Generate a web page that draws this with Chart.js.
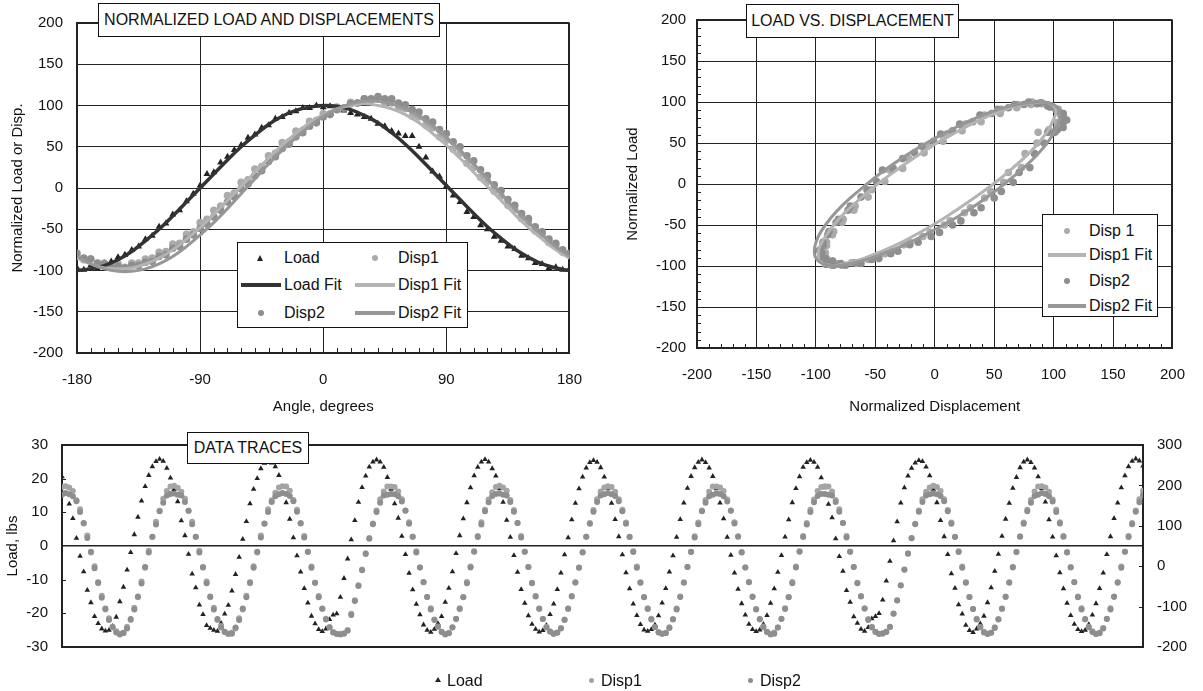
<!DOCTYPE html>
<html>
<head>
<meta charset="utf-8">
<script src="https://cdn.jsdelivr.net/npm/chart.js@4.4.1/dist/chart.umd.min.js"></script>
<style>
  body { margin: 0; background: #fff; font-family: "Liberation Sans", Arial, Helvetica, sans-serif; }
  #wrap { position: relative; width: 1203px; height: 691px; overflow: hidden; }
  canvas { position: absolute; }
  .tbox { position: absolute; background: #fff; border: 1.5px solid #111; box-sizing: border-box;
          font-size: 16px; color: #111; display: flex; align-items: center; justify-content: center; white-space: nowrap; }
  .lbox { position: absolute; background: #fff; border: 1.5px solid #111; box-sizing: border-box; }
  .lt { position: absolute; font-size: 16px; line-height: 18px; color: #111; white-space: nowrap; }
  .tri { position: absolute; width: 0; height: 0; border-left: 3.5px solid transparent; border-right: 3.5px solid transparent; border-bottom: 6px solid #222; }
  .dot { position: absolute; width: 6px; height: 6px; border-radius: 50%; }
  .ln { position: absolute; height: 4px; }
</style>
</head>
<body>
<div id="wrap">
  <canvas id="c1" width="600" height="420" style="left:0;top:0"></canvas>
  <canvas id="c2" width="603" height="420" style="left:600px;top:0"></canvas>
  <canvas id="c3" width="1203" height="271" style="left:0;top:420px"></canvas>

  <!-- titles -->
  <div class="tbox" style="left:98px;top:3px;width:342px;height:34px">NORMALIZED LOAD AND DISPLACEMENTS</div>
  <div class="tbox" style="left:746px;top:4px;width:213px;height:34px">LOAD VS. DISPLACEMENT</div>
  <div class="tbox" style="left:187px;top:432px;width:122px;height:32px">DATA TRACES</div>

  <!-- legend chart 1 -->
  <div class="lbox" style="left:237px;top:242px;width:231px;height:86px"></div>
  <div class="tri" style="left:257px;top:255px"></div>
  <div class="lt" style="left:284px;top:249px">Load</div>
  <div class="ln" style="left:241px;top:283px;width:40px;background:#333"></div>
  <div class="lt" style="left:284px;top:276px">Load Fit</div>
  <div class="dot" style="left:258px;top:310px;background:#8e8e8e"></div>
  <div class="lt" style="left:284px;top:304px">Disp2</div>
  <div class="dot" style="left:372px;top:255px;background:#ababab"></div>
  <div class="lt" style="left:398px;top:249px">Disp1</div>
  <div class="ln" style="left:355px;top:283px;width:40px;background:#b4b4b4"></div>
  <div class="lt" style="left:398px;top:276px">Disp1 Fit</div>
  <div class="ln" style="left:355px;top:311px;width:40px;background:#979797"></div>
  <div class="lt" style="left:398px;top:304px">Disp2 Fit</div>

  <!-- legend chart 2 -->
  <div class="lbox" style="left:1042px;top:214px;width:116px;height:103px"></div>
  <div class="dot" style="left:1064px;top:228px;background:#ababab"></div>
  <div class="lt" style="left:1089px;top:222px">Disp 1</div>
  <div class="ln" style="left:1048px;top:253px;width:38px;background:#b4b4b4"></div>
  <div class="lt" style="left:1089px;top:246px">Disp1 Fit</div>
  <div class="dot" style="left:1064px;top:278px;background:#8e8e8e"></div>
  <div class="lt" style="left:1089px;top:272px">Disp2</div>
  <div class="ln" style="left:1048px;top:304px;width:38px;background:#979797"></div>
  <div class="lt" style="left:1089px;top:297px">Disp2 Fit</div>

  <!-- legend chart 3 -->
  <div class="tri" style="left:434.5px;top:677px;border-left-width:3px;border-right-width:3px;border-bottom-width:5px"></div>
  <div class="lt" style="left:447px;top:672px">Load</div>
  <div class="dot" style="left:589px;top:678px;width:5px;height:5px;background:#a4a4a4"></div>
  <div class="lt" style="left:601px;top:672px">Disp1</div>
  <div class="dot" style="left:748px;top:678px;width:5px;height:5px;background:#8e8e8e"></div>
  <div class="lt" style="left:760px;top:672px">Disp2</div>
</div>

<script>
// ---- normalized data, one cycle folded (chart 1 + chart 2) ----
const angles = [-180, -175, -170, -165, -160, -155, -150, -145, -140, -135, -130, -125, -120, -115, -110, -105,
  -100, -95, -90, -85, -80, -75, -70, -65, -60, -55, -50, -45, -40, -35, -30, -25, -20, -15, -10, -5,
  0, 5, 10, 15, 20, 25, 30, 35, 40, 45, 50, 55, 60, 65, 70, 75, 80, 85, 90, 95, 100, 105, 110, 115,
  120, 125, 130, 135, 140, 145, 150, 155, 160, 165, 170, 175, 180];
const loadNorm = [-97, -99, -94, -98, -91, -89, -84, -81, -75, -71, -62, -58, -47, -43, -32, -27,
  -16, -7, 3, 17, 19, 31, 38, 46, 52, 61, 65, 73, 76, 84, 86, 91, 93, 97, 97, 100,
  98, 99, 95, 94, 91, 89, 86, 84, 78, 75, 69, 66, 63, 63, 50, 37, 20, 14, 2, -9, -17, -29, -35, -45,
  -50, -59, -64, -71, -74, -82, -85, -91, -92, -97, -96, -99, -98];
const disp1Norm = [-83, -87, -86, -92, -91, -95, -92, -96, -91, -91, -86, -85, -78, -77, -68, -67,
  -56, -53, -42, -38, -27, -22, -9, -6, 7, 10, 23, 26, 39, 42, 55, 56, 69, 70, 81, 82,
  90, 90, 98, 97, 104, 103, 108, 106, 108, 103, 103, 96, 96, 87, 86, 76, 73, 62, 58, 47, 42, 30, 25, 13,
  8, -4, -10, -21, -26, -37, -42, -52, -56, -66, -70, -78, -81];
const disp2Norm = [-79, -85, -86, -91, -92, -96, -95, -97, -94, -94, -90, -89, -83, -81, -73, -71,
  -62, -57, -49, -44, -35, -27, -17, -11, -1, 5, 15, 21, 32, 38, 48, 53, 62, 67, 75, 79,
  86, 89, 95, 97, 102, 103, 108, 108, 111, 108, 108, 103, 101, 95, 92, 84, 80, 71, 66, 56, 50, 39, 33, 22,
  15, 4, -3, -14, -21, -31, -37, -47, -53, -62, -67, -75, -79];

// fitted curves
const fitAngles = [-180, -170, -160, -150, -140, -130, -120, -110, -100, -90, -80, -70, -60, -50, -40, -30, -20, -10,
  0, 10, 20, 30, 40, 50, 60, 70, 80, 90, 100, 110, 120, 130, 140, 150, 160, 170, 180];
const loadFit = [-100, -98, -94, -87, -77, -64, -50, -34, -17, 0, 17, 34, 50, 64, 77, 87, 94, 98,
  100, 99, 95, 88, 79, 67, 53, 37, 20, 3, -14, -31, -47, -61, -74, -84, -92, -97, -100];
const disp1Fit = [-85, -92, -97, -98, -97, -92, -85, -75, -62, -48, -32, -15, 2, 19, 36, 52, 66, 79,
  89, 96, 100, 102, 100, 96, 89, 79, 66, 52, 36, 19, 2, -15, -32, -48, -62, -75, -85];
const disp2Fit = [-83, -92, -98, -101, -101, -98, -92, -83, -71, -57, -42, -25, -7, 11, 29, 46, 61, 75,
  87, 96, 102, 105, 105, 102, 96, 87, 75, 61, 46, 29, 11, -7, -25, -42, -57, -71, -83];

// ---- raw traces (chart 3), one row per cycle ----
const loadTrace = [
  20.6, 17.4, 12.5, 8.2, 2.3, -3.0, -7.6, -13.1, -16.8, -20.9, -23.0, -24.6, -25.2, -25.0, -23.8, -21.1, -16.5, -12.2, -7.1, -1.9, 3.4, 8.6, 13.4, 17.7, 21.0, 23.6, 25.1, 25.8, 25.2, 23.1,
  20.2, 16.8, 13.2, 7.5, 3.1, -2.4, -8.3, -12.4, -17.5, -20.3, -23.6, -24.4, -25.0, -25.3, -22.9, -20.2, -17.6, -13.3, -8.4, -3.3, 2.0, 7.3, 12.6, 16.9, 20.1, 23.0, 24.6, 25.3, 24.7, 23.6,
  21.0, 17.5, 12.9, 8.0, 2.5, -2.9, -7.7, -12.6, -16.9, -20.8, -23.1, -24.8, -25.4, -24.6, -21.8, -20.5, -20.1, -15.2, -9.6, -3.8, 1.9, 7.6, 13.0, 17.4, 20.8, 23.5, 25.0, 25.6, 25.0, 23.4,
  20.4, 16.9, 12.6, 8.3, 2.9, -2.5, -8.1, -13.0, -17.3, -20.4, -23.4, -25.0, -25.6, -24.7, -23.0, -20.9, -16.7, -12.5, -7.6, -2.2, 3.1, 8.1, 12.9, 17.3, 20.9, 23.4, 25.0, 25.7, 25.0, 23.0,
  20.8, 17.0, 13.0, 7.7, 2.6, -2.8, -7.8, -12.9, -17.0, -20.7, -23.2, -24.7, -25.5, -25.1, -23.5, -20.3, -17.2, -12.9, -8.0, -2.6, 2.5, 7.8, 12.7, 17.0, 20.5, 23.2, 24.8, 25.4, 24.9, 23.3,
  20.5, 17.2, 12.7, 7.9, 2.8, -2.6, -7.9, -12.7, -17.2, -20.6, -23.3, -24.9, -25.3, -24.8, -23.4, -20.7, -16.9, -12.6, -7.7, -2.9, 2.6, 7.9, 12.8, 17.2, 20.7, 23.3, 24.9, 25.6, 24.8, 23.2,
  20.7, 17.0, 12.8, 8.1, 2.6, -2.7, -8.0, -12.8, -17.1, -20.5, -23.2, -24.8, -25.4, -24.9, -23.2, -20.6, -17.0, -12.7, -7.8, -2.8, 2.7, 7.8, 12.9, 17.1, 20.6, 23.4, 24.8, 25.5, 24.9, 23.4,
  20.3, 17.3, 12.4, 8.4, 2.2, -3.1, -7.5, -13.2, -16.7, -21.0, -22.9, -24.7, -25.3, -24.2, -21.6, -20.9, -20.0, -16.0, -10.4, -4.5, 1.6, 7.2, 12.8, 17.3, 20.8, 23.1, 24.7, 25.4, 25.1, 23.5,
  20.9, 16.9, 12.9, 7.6, 2.8, -2.5, -8.2, -12.5, -17.4, -20.2, -23.5, -25.1, -25.7, -24.6, -23.1, -20.8, -16.8, -12.4, -7.5, -2.4, 2.9, 8.0, 12.7, 17.2, 20.4, 23.3, 25.0, 25.6, 24.8, 23.2,
  20.6, 17.1, 13.1, 7.8, 2.7, -2.9, -7.9, -12.7, -17.0, -20.6, -23.2, -24.8, -25.4, -25.0, -23.3, -20.5, -17.1, -12.6, -8.0, -2.5, 2.8, 8.2, 12.8, 17.3, 20.9, 23.6, 25.2, 25.9, 25.3, 23.8
];
const disp1Trace = [
  196, 198, 195, 186, 163, 141, 106, 76, 34, 0, -42, -73, -107, -129, -152, -161, -167, -166, -150, -133, -103, -77, -38, -4, 38, 72, 110, 137, 167, 186,
  197, 199, 194, 184, 167, 137, 110, 72, 38, -4, -38, -77, -103, -133, -148, -163, -168, -164, -154, -129, -107, -73, -42, 0, 34, 76, 106, 141, 163, 182,
  195, 198, 197, 187, 164, 140, 107, 75, 35, -1, -41, -74, -106, -130, -151, -163, -167, -167, -166, -158, -118, -84, -47, -8, 32, 70, 106, 138, 166, 185,
  197, 197, 196, 185, 166, 138, 109, 73, 37, -3, -39, -76, -104, -132, -149, -162, -168, -165, -151, -130, -104, -76, -39, -1, 37, 75, 109, 140, 165, 183,
  196, 199, 195, 187, 164, 139, 107, 75, 36, -2, -41, -74, -106, -131, -150, -161, -166, -164, -153, -132, -106, -74, -41, -3, 35, 73, 107, 139, 166, 185,
  195, 198, 196, 184, 166, 140, 108, 73, 37, -1, -40, -76, -104, -130, -151, -163, -167, -165, -151, -131, -105, -75, -40, -2, 36, 74, 108, 138, 164, 184,
  197, 197, 195, 186, 165, 138, 109, 74, 35, -3, -39, -75, -106, -132, -149, -162, -168, -164, -152, -130, -104, -76, -39, -1, 37, 75, 107, 140, 165, 186,
  196, 198, 197, 185, 164, 141, 107, 75, 36, -2, -41, -74, -105, -131, -150, -163, -167, -167, -163, -151, -117, -84, -47, -8, 32, 70, 105, 138, 166, 184,
  195, 199, 196, 186, 166, 139, 108, 73, 37, -1, -40, -76, -106, -130, -151, -162, -168, -165, -151, -131, -106, -75, -40, -3, 35, 74, 108, 140, 164, 185,
  197, 198, 195, 184, 165, 140, 109, 75, 35, -2, -39, -75, -104, -132, -150, -161, -167, -164, -153, -130, -104, -76, -41, -1, 36, 75, 107, 138, 166, 187
];
const disp2Trace = [
  177, 181, 178, 173, 161, 134, 107, 70, 36, -5, -40, -78, -105, -133, -150, -164, -169, -165, -154, -131, -107, -75, -43, -2, 34, 73, 103, 136, 157, 175,
  179, 180, 177, 175, 159, 137, 104, 73, 34, -2, -42, -75, -107, -131, -152, -162, -167, -167, -152, -133, -105, -77, -40, -4, 36, 71, 105, 134, 159, 173,
  178, 181, 179, 174, 161, 135, 106, 71, 36, -4, -41, -77, -105, -132, -151, -164, -168, -169, -167, -160, -121, -86, -49, -10, 30, 68, 104, 134, 157, 175,
  177, 179, 178, 173, 160, 137, 105, 73, 34, -3, -40, -76, -107, -133, -150, -163, -169, -166, -152, -131, -106, -77, -42, -3, 36, 72, 103, 136, 158, 174,
  179, 180, 177, 175, 159, 135, 107, 71, 36, -2, -42, -75, -105, -131, -152, -162, -168, -165, -154, -133, -105, -75, -40, -4, 34, 73, 105, 135, 159, 175,
  178, 181, 178, 174, 161, 136, 105, 72, 35, -4, -41, -77, -106, -132, -150, -164, -167, -166, -153, -132, -107, -76, -41, -2, 35, 71, 104, 136, 157, 173,
  177, 180, 179, 173, 160, 137, 106, 73, 34, -3, -40, -76, -107, -131, -151, -163, -169, -167, -152, -131, -106, -77, -42, -3, 36, 72, 103, 134, 158, 174,
  179, 179, 177, 175, 159, 135, 107, 71, 36, -2, -42, -75, -105, -133, -152, -162, -168, -166, -162, -150, -118, -85, -48, -9, 31, 69, 104, 135, 159, 175,
  178, 180, 178, 174, 161, 136, 105, 72, 35, -4, -41, -76, -106, -132, -150, -164, -167, -165, -153, -132, -105, -76, -41, -2, 35, 73, 105, 136, 157, 174,
  177, 181, 179, 173, 160, 134, 106, 73, 34, -3, -40, -77, -107, -131, -151, -163, -168, -166, -154, -131, -107, -75, -40, -4, 36, 72, 104, 135, 158, 176
];

// colours
const cLoad = '#222222';
const cDisp1 = '#ababab';
const cDisp2 = '#8e8e8e';
const cLoadFit = '#333333';
const cDisp1Fit = '#b4b4b4';
const cDisp2Fit = '#979797';

Chart.defaults.font.family = '"Liberation Sans", Arial, Helvetica, sans-serif';
Chart.defaults.font.size = 15;
Chart.defaults.color = '#111';

// small tick marks drawn on the inner side of the frame
const insideTicks = {
  id: 'insideTicks',
  afterDatasetsDraw(chart, args, opts) {
    const ctx = chart.ctx, a = chart.chartArea;
    const len = opts.len || 5;
    ctx.save();
    ctx.strokeStyle = '#222';
    ctx.lineWidth = 1;
    ctx.beginPath();
    (opts.bottom || []).forEach(v => {
      const p = Math.round(chart.scales.x.getPixelForValue(v)) + 0.5;
      ctx.moveTo(p, a.bottom); ctx.lineTo(p, a.bottom - len);
    });
    (opts.left || []).forEach(v => {
      const p = Math.round(chart.scales.y.getPixelForValue(v)) + 0.5;
      ctx.moveTo(a.left, p); ctx.lineTo(a.left + len, p);
    });
    (opts.right || []).forEach(v => {
      const p = Math.round(chart.scales[opts.rightId].getPixelForValue(v)) + 0.5;
      ctx.moveTo(a.right, p); ctx.lineTo(a.right - len, p);
    });
    ctx.stroke();
    ctx.restore();
  }
};

const angleMinor = [];
for (let a = -170; a < 180; a += 10) if (a % 90 !== 0) angleMinor.push(a);
const normMinor = [];
for (let v = -190; v < 200; v += 10) if (v % 50 !== 0) normMinor.push(v);

function pts(xs, ys) { return xs.map((x, i) => ({ x: x, y: ys[i] })); }

const frame = '#222';

// ---------- chart 1 ----------
new Chart(document.getElementById('c1'), {
  type: 'scatter',
  data: {
    datasets: [
      { label: 'Load', data: pts(angles, loadNorm), pointStyle: 'triangle', pointRadius: 4,
        backgroundColor: cLoad, borderColor: cLoad, borderWidth: 0, order: 6 },
      { label: 'Disp1', data: pts(angles, disp1Norm), pointRadius: 3.8,
        backgroundColor: cDisp1, borderColor: cDisp1, borderWidth: 0, order: 5 },
      { label: 'Disp2', data: pts(angles, disp2Norm), pointRadius: 3.8,
        backgroundColor: cDisp2, borderColor: cDisp2, borderWidth: 0, order: 4 },
      { label: 'Load Fit', data: pts(fitAngles, loadFit), showLine: true, pointRadius: 0,
        borderColor: cLoadFit, borderWidth: 3.5, tension: 0.4, order: 3 },
      { label: 'Disp1 Fit', data: pts(fitAngles, disp1Fit), showLine: true, pointRadius: 0,
        borderColor: cDisp1Fit, borderWidth: 3, tension: 0.4, order: 2 },
      { label: 'Disp2 Fit', data: pts(fitAngles, disp2Fit), showLine: true, pointRadius: 0,
        borderColor: cDisp2Fit, borderWidth: 3, tension: 0.4, order: 1 }
    ]
  },
  plugins: [insideTicks],
  options: {
    responsive: false,
    animation: false,
    layout: { padding: { top: 20, right: 19, left: 0, bottom: 0 } },
    plugins: {
      legend: { display: false },
      tooltip: { enabled: false },
      insideTicks: { bottom: angleMinor, len: 5 }
    },
    scales: {
      x: {
        type: 'linear', min: -180, max: 180,
        ticks: { stepSize: 90, padding: 18 },
        grid: { color: frame, drawTicks: false, lineWidth: c => (c.tick && c.tick.value === 180) ? 2 : 1 },
        border: { color: frame, width: 2 },
        title: { display: true, text: 'Angle, degrees', padding: { top: 0, bottom: 4 } },
        afterFit: s => { s.height = 67; }
      },
      y: {
        min: -200, max: 200,
        ticks: { stepSize: 50, padding: 14 },
        grid: { color: frame, drawTicks: false, lineWidth: c => (c.tick && c.tick.value === 200) ? 2 : 1 },
        border: { color: frame, width: 2 },
        title: { display: true, text: 'Normalized Load or Disp.', padding: { top: 9, bottom: 0 } },
        afterFit: s => { s.width = 77; }
      }
    }
  }
});

// ---------- chart 2 ----------
new Chart(document.getElementById('c2'), {
  type: 'scatter',
  data: {
    datasets: [
      { label: 'Disp 1', data: pts(disp1Norm, loadNorm), pointRadius: 3.8,
        backgroundColor: cDisp1, borderColor: cDisp1, borderWidth: 0, order: 4 },
      { label: 'Disp2', data: pts(disp2Norm, loadNorm), pointRadius: 3.8,
        backgroundColor: cDisp2, borderColor: cDisp2, borderWidth: 0, order: 3 },
      { label: 'Disp1 Fit', data: pts(disp1Fit, loadFit), showLine: true, pointRadius: 0,
        borderColor: cDisp1Fit, borderWidth: 3, tension: 0.4, order: 2 },
      { label: 'Disp2 Fit', data: pts(disp2Fit, loadFit), showLine: true, pointRadius: 0,
        borderColor: cDisp2Fit, borderWidth: 3, tension: 0.4, order: 1 }
    ]
  },
  plugins: [insideTicks],
  options: {
    responsive: false,
    animation: false,
    layout: { padding: { top: 20, right: 15, left: 0, bottom: 0 } },
    plugins: {
      legend: { display: false },
      tooltip: { enabled: false },
      insideTicks: { bottom: normMinor, left: normMinor, len: 4 }
    },
    scales: {
      x: {
        type: 'linear', min: -200, max: 200,
        ticks: { stepSize: 50, padding: 18 },
        grid: { color: frame, drawTicks: false, lineWidth: c => (c.tick && c.tick.value === 200) ? 2 : 1 },
        border: { color: frame, width: 2 },
        title: { display: true, text: 'Normalized Displacement', padding: { top: 0, bottom: 4 } },
        afterFit: s => { s.height = 72; }
      },
      y: {
        min: -200, max: 200,
        ticks: { stepSize: 50, padding: 11 },
        grid: { color: frame, drawTicks: false, lineWidth: c => (c.tick && c.tick.value === 200) ? 2 : 1 },
        border: { color: frame, width: 2 },
        title: { display: true, text: 'Normalized Load', padding: { top: 24, bottom: 0 } },
        afterFit: s => { s.width = 97; }
      }
    }
  }
});

// ---------- chart 3 ----------
const sample = loadTrace.map((v, i) => i);
new Chart(document.getElementById('c3'), {
  type: 'scatter',
  data: {
    datasets: [
      { label: 'Load', data: pts(sample, loadTrace), yAxisID: 'y', pointStyle: 'triangle', pointRadius: 3.2,
        backgroundColor: cLoad, borderColor: cLoad, borderWidth: 0, order: 3 },
      { label: 'Disp1', data: pts(sample, disp1Trace), yAxisID: 'y2', pointRadius: 3,
        backgroundColor: '#a4a4a4', borderColor: '#a4a4a4', borderWidth: 0, order: 2 },
      { label: 'Disp2', data: pts(sample, disp2Trace), yAxisID: 'y2', pointRadius: 3,
        backgroundColor: cDisp2, borderColor: cDisp2, borderWidth: 0, order: 1 }
    ]
  },
  plugins: [insideTicks],
  options: {
    responsive: false,
    animation: false,
    layout: { padding: { top: 25, right: 0, left: 0, bottom: 0 } },
    plugins: {
      legend: { display: false },
      tooltip: { enabled: false },
      insideTicks: { left: [-20, -10, 10, 20], right: [-100, 0, 100, 200], rightId: 'y2', len: 4 }
    },
    scales: {
      x: {
        type: 'linear', min: 0, max: sample.length - 1,
        ticks: { display: false },
        grid: { display: false },
        border: { color: frame, width: 2 },
        afterFit: s => { s.height = 44; }
      },
      y: {
        position: 'left', min: -30, max: 30,
        ticks: { stepSize: 10, padding: 14 },
        grid: {
          drawTicks: false,
          color: c => (c.tick && [0, 30, -30].includes(c.tick.value)) ? frame : 'rgba(0,0,0,0)',
          lineWidth: c => (c.tick && c.tick.value === 0) ? 1.5 : 2
        },
        border: { color: frame, width: 2 },
        title: { display: true, text: 'Load, lbs', padding: { top: 4, bottom: 0 } },
        afterFit: s => { s.width = 62; }
      },
      y2: {
        position: 'right', min: -200, max: 300,
        ticks: { stepSize: 100, padding: 14 },
        grid: { drawOnChartArea: false, drawTicks: false },
        border: { color: frame, width: 2 },
        afterFit: s => { s.width = 60; }
      }
    }
  }
});
</script>
</body>
</html>
